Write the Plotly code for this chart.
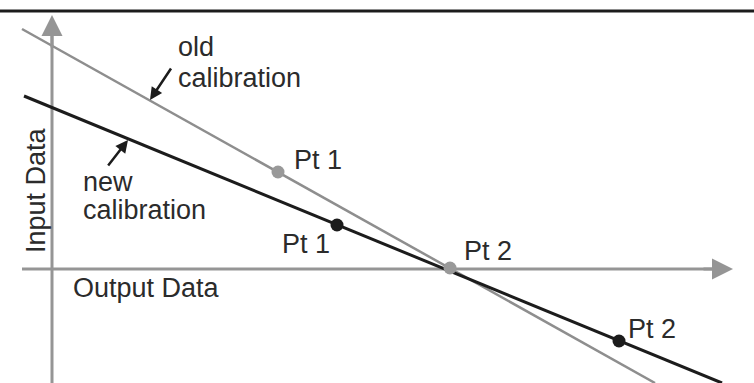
import plotly.graph_objects as go

# Calibration lines (endpoints, axis units: origin where the two axes cross)
OLD_X = [-30, 603]
OLD_Y = [240, -114]
NEW_X = [-28, 670]
NEW_Y = [173, -114]

# Calibration points
OLD_PTS_X = [226, 398]
OLD_PTS_Y = [97, 1]
NEW_PTS_X = [285, 567]
NEW_PTS_Y = [44, -72]
PT_LABELS = ["Pt 1", "Pt 2"]

GREY = "#8e8e8e"
AXIS_GREY = "#959595"
BLACK = "#1c1c1c"
TEXT = "#2b2b2b"
FONT = dict(family="Liberation Sans, Arial, sans-serif", size=27, color=TEXT)

fig = go.Figure()

# axes (drawn as plain lines, arrowheads added below)
fig.add_trace(go.Scatter(x=[-30, 670], y=[0, 0], mode="lines",
                         line=dict(color=AXIS_GREY, width=3), hoverinfo="skip"))
fig.add_trace(go.Scatter(x=[0, 0], y=[-114, 240], mode="lines",
                         line=dict(color=AXIS_GREY, width=3), hoverinfo="skip"))

fig.add_trace(go.Scatter(x=OLD_X, y=OLD_Y, mode="lines", name="old calibration",
                         line=dict(color=GREY, width=2.5)))
fig.add_trace(go.Scatter(x=NEW_X, y=NEW_Y, mode="lines", name="new calibration",
                         line=dict(color=BLACK, width=3)))
fig.add_trace(go.Scatter(x=OLD_PTS_X, y=OLD_PTS_Y, mode="markers",
                         marker=dict(color="#999999", size=13)))
fig.add_trace(go.Scatter(x=NEW_PTS_X, y=NEW_PTS_Y, mode="markers",
                         marker=dict(color=BLACK, size=13)))


def arrow(x, y, ax, ay, color, width, size):
    fig.add_annotation(x=x, y=y, ax=ax, ay=ay, xref="x", yref="y", axref="x", ayref="y",
                       text="", showarrow=True, arrowhead=2, arrowsize=size,
                       arrowwidth=width, arrowcolor=color, standoff=0)


# axis arrowheads
arrow(681, 0, 650, 0, AXIS_GREY, 3, 1.4)
arrow(0, 254, 0, 220, AXIS_GREY, 3, 1.4)
# pointers to the lines
arrow(98, 169, 120, 202, BLACK, 2.5, 1)
arrow(76, 129, 55, 102, BLACK, 2.5, 1)


def label(text, x, y, anchor="left", angle=0):
    fig.add_annotation(x=x, y=y, xref="x", yref="y", text=text, showarrow=False,
                       xanchor=anchor if angle == 0 else "center", yanchor="middle",
                       textangle=angle, font=FONT)


label("old", 124, 222)
label("calibration", 124, 191)
label("new", 29, 87)
label("calibration", 29, 59)
label("Output Data", 19, -19)
label("Input Data", -16, 79, angle=-90)

# point labels, offset from their points
offsets_old = [(14, 12), (12, 17)]
offsets_new = [(-57, -19), (7, 12)]
for px, py, t, (dx, dy) in zip(OLD_PTS_X, OLD_PTS_Y, PT_LABELS, offsets_old):
    label(t, px + dx, py + dy)
for px, py, t, (dx, dy) in zip(NEW_PTS_X, NEW_PTS_Y, PT_LABELS, offsets_new):
    label(t, px + dx, py + dy)

# rule across the top of the figure
fig.add_shape(type="line", xref="paper", yref="y", x0=0, x1=1, y0=258, y1=258,
              line=dict(color=BLACK, width=3))

fig.update_layout(
    width=754, height=383,
    margin=dict(l=0, r=0, t=0, b=0),
    plot_bgcolor="white", paper_bgcolor="white",
    showlegend=False,
    xaxis=dict(range=[-52, 702], visible=False),
    yaxis=dict(range=[-114, 269], visible=False),
)

# drop the browser's default page margin so the figure sits at the window corner
fig.write_html("out.html", config={"displayModeBar": False},
               post_script="document.body.style.margin='0';")
